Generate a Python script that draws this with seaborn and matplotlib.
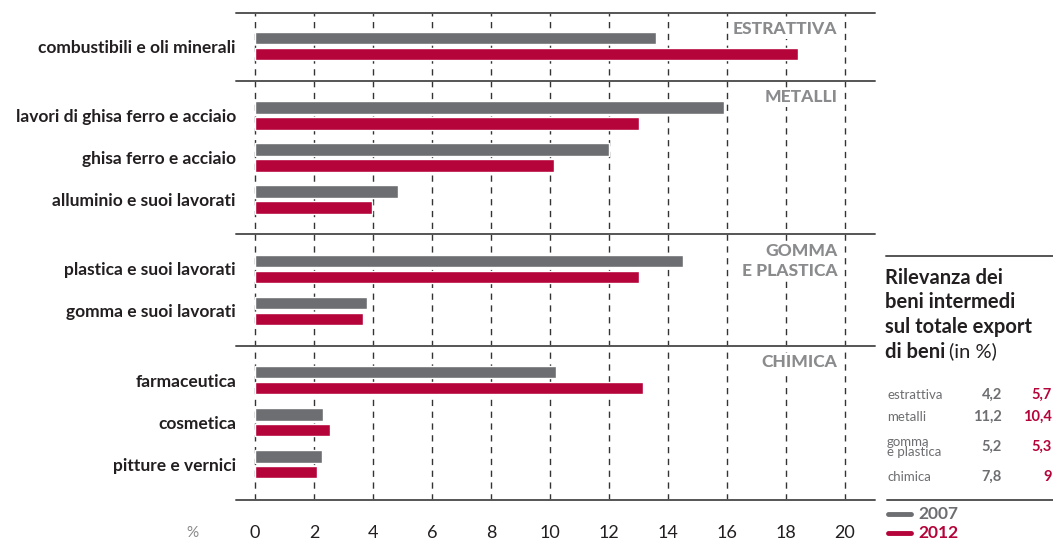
import numpy as np
import pandas as pd
import seaborn as sns
import matplotlib.pyplot as plt

sns.set_theme(style="white")
plt.rcParams['font.family'] = ['Lato', 'DejaVu Sans']

# ---------------- data ----------------
groups = ["ESTRATTIVA", "METALLI", "GOMMA\nE PLASTICA", "CHIMICA"]
group_items = [
    ["combustibili e oli minerali"],
    ["lavori di ghisa ferro e acciaio", "ghisa ferro e acciaio", "alluminio e suoi lavorati"],
    ["plastica e suoi lavorati", "gomma e suoi lavorati"],
    ["farmaceutica", "cosmetica", "pitture e vernici"],
]
values_2007 = [13.6, 15.9, 12.0, 4.85, 14.5, 3.8, 10.2, 2.3, 2.27]
values_2012 = [18.4, 13.0, 10.15, 3.95, 13.0, 3.66, 13.15, 2.55, 2.1]
years = ["2007", "2012"]
xticks = list(range(0, 21, 2))

side_cats = ["estrattiva", "metalli", "gomma\ne plastica", "chimica"]
side_2007 = [4.2, 11.2, 5.2, 7.8]
side_2012 = [5.7, 10.4, 5.3, 9]

GRAY = "#6d6e71"
RED = "#b5043a"
TXT = "#231f20"
GTITLE = "#8a8b8d"

# ---------------- layout positions ----------------
GAP = 1.65
pos = []
group_bounds = []
p = 0.0
for gi, items in enumerate(group_items):
    if gi > 0:
        p += GAP - 1
    start = p
    for _ in items:
        pos.append(p)
        p += 1
    group_bounds.append((start, p - 1))
cats = [c for items in group_items for c in items]

df = pd.DataFrame({
    "cat": cats * 2,
    "pos": pos * 2,
    "value": values_2007 + values_2012,
    "year": [years[0]] * len(cats) + [years[1]] * len(cats),
})

W, H = 1053, 540
fig = plt.figure(figsize=(W / 100, H / 100), dpi=100)
ax_l, ax_r, ax_t, ax_b = 236, 875, 13, 500
ax = fig.add_axes([ax_l / W, 1 - ax_b / H, (ax_r - ax_l) / W, (ax_b - ax_t) / H])

sns.barplot(data=df, x="value", y="pos", hue="year", hue_order=years, orient="h",
            native_scale=True, palette=[GRAY, RED], width=0.76, gap=0.22,
            errorbar=None, saturation=1, legend=False, ax=ax, zorder=3)

x0px, x20px = 255, 845
ppu = (x20px - x0px) / 20
ax.set_xlim((ax_l - x0px) / ppu, 20 + (ax_r - x20px) / ppu)
top = group_bounds[0][0] - 0.79
bottom = group_bounds[-1][1] + 0.85
ax.set_ylim(bottom, top)

for s in ax.spines.values():
    s.set_visible(False)
ax.set_xticks(xticks)
ax.set_xticklabels([str(t) for t in xticks], fontsize=13, color=TXT)
ax.tick_params(axis="x", length=0, pad=18)
ax.set_xlabel("")
ax.set_ylabel("")
ax.set_yticks(pos)
ax.set_yticklabels(cats, fontsize=12.5, fontweight="bold", color=TXT)
ax.tick_params(axis="y", length=0, pad=0)

for t in xticks:
    ax.axvline(t, color="#333333", lw=1.0, ls=(0, (4.5, 4)), zorder=1)

# separators
seps = [top]
for gi in range(1, len(group_bounds)):
    seps.append((group_bounds[gi - 1][1] + group_bounds[gi][0]) / 2)
seps.append(bottom)
for s in seps:
    ax.axhline(s, color="#555555", lw=1.4, zorder=4, clip_on=False)

# group titles
for gi, g in enumerate(groups):
    ax.text(20 - 0.25, seps[gi] + 0.2, g, ha="right", va="top", fontsize=12.5,
            fontweight="black", color=GTITLE, linespacing=1.35, zorder=5,
            bbox=dict(facecolor="white", edgecolor="none", pad=1.0))

def fx(x):
    return x / W

def fy(y):
    return 1 - y / H

fig.text(fx(192), fy(533), "%", fontsize=11, color="#888888", ha="center", va="center")

# ---------------- side panel ----------------
fig.add_artist(plt.Line2D([fx(886), fx(1053)], [fy(256), fy(256)], color="#555555", lw=1.4))
title_lines = ["Rilevanza dei", "beni intermedi", "sul totale export"]
ty = [278, 302.5, 327, 351.5]
for i, t in enumerate(title_lines):
    fig.text(fx(885), fy(ty[i]), t, fontsize=14.5, fontweight="bold", color=TXT, va="center")
tb = fig.text(fx(885), fy(ty[3]), "di beni", fontsize=14.5, fontweight="bold", color=TXT, va="center")
fig.canvas.draw()
bb = tb.get_window_extent()
fig.text(bb.x1 / W + 4 / W, fy(ty[3]), "(in %)", fontsize=14.5, color=TXT, va="center")

def fmt(v):
    if float(v).is_integer():
        return str(int(v))
    return f"{v:.1f}".replace(".", ",")

row_y = [395, 417, 447, 477]
for c, a, b, y in zip(side_cats, side_2007, side_2012, row_y):
    fig.text(fx(887), fy(y), c, fontsize=9.5, color="#6d6e71", va="center", linespacing=0.9)
    fig.text(fx(1002), fy(y), fmt(a), fontsize=10.5, fontweight="bold", color="#6d6e71",
             va="center", ha="right")
    fig.text(fx(1052), fy(y), fmt(b), fontsize=10.5, fontweight="bold", color=RED,
             va="center", ha="right")

fig.add_artist(plt.Line2D([fx(887), fx(1053)], [fy(500), fy(500)], color="#555555", lw=1.4))
for yr, col, y in zip(years, [GRAY, RED], [514, 533]):
    fig.add_artist(plt.Line2D([fx(888), fx(911)], [fy(y), fy(y)], color=col, lw=3.5))
    fig.text(fx(918), fy(y), yr, fontsize=12.5, fontweight="bold", color=col, va="center")

fig.savefig("out.png", dpi=100)
